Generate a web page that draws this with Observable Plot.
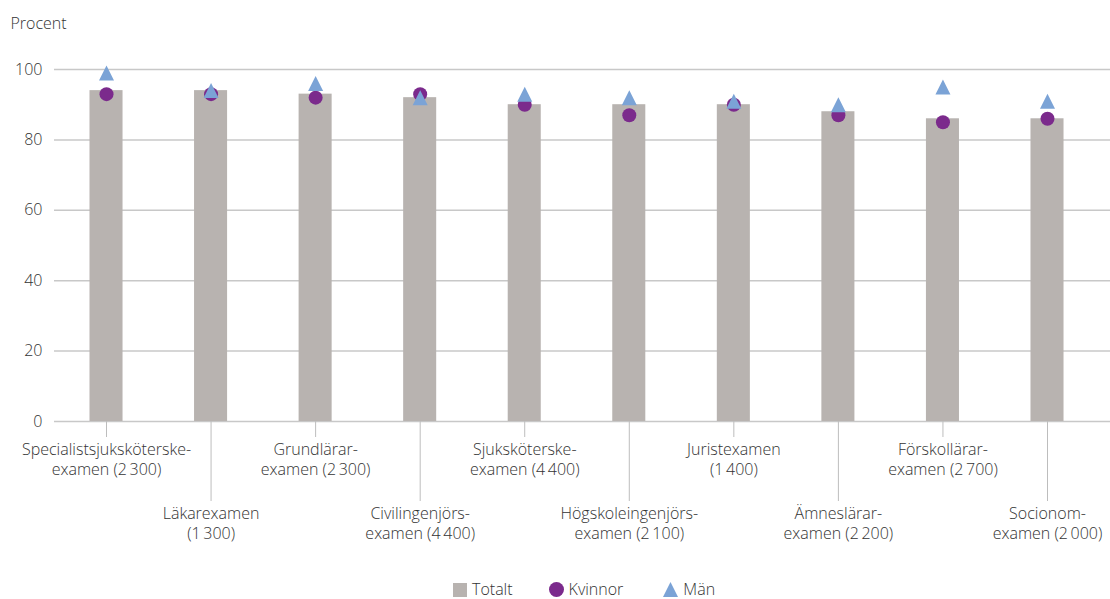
<!DOCTYPE html>
<html>
<head>
<meta charset="utf-8">
<script src="https://cdn.jsdelivr.net/npm/d3@7"></script>
<script src="https://cdn.jsdelivr.net/npm/@observablehq/plot@0.6"></script>
<style>
  body { margin: 0; background: #fff; font-family: "Open Sans", Lato, sans-serif; }
  #chart svg { display: block; }
  #legend { margin-left: 453px; margin-top: 11px; display: flex; align-items: center; font-size: 16px; font-weight: 300; color: #333; height: 17px; line-height: 17px; }
  #legend .item { display: flex; align-items: center; }
  #legend .item:nth-child(1) { margin-right: 36px; }
  #legend .item:nth-child(2) { margin-right: 40px; }
  #legend svg { margin-right: 5px; display: block; }
</style>
</head>
<body>
<div id="chart"></div>
<div id="legend"></div>
<script>
const categories = [
  "Specialistsjuksköterske-\nexamen (2\u2009300)",
  "Läkarexamen\n(1\u2009300)",
  "Grundlärar-\nexamen (2\u2009300)",
  "Civilingenjörs-\nexamen (4\u2009400)",
  "Sjuksköterske-\nexamen (4\u2009400)",
  "Högskoleingenjörs-\nexamen (2\u2009100)",
  "Juristexamen\n(1\u2009400)",
  "Ämneslärar-\nexamen (2\u2009200)",
  "Förskollärar-\nexamen (2\u2009700)",
  "Socionom-\nexamen (2\u2009000)"
];
const totalt  = [94, 94, 93, 92, 90, 90, 90, 88, 86, 86];
const kvinnor = [93, 93, 92, 93, 90, 87, 90, 87, 85, 86];
const man     = [99, 94, 96, 92, 93, 92, 91, 90, 95, 91];
const yTicks = [0, 20, 40, 60, 80, 100];

const data = categories.map((c, i) => ({cat: c, totalt: totalt[i], kvinnor: kvinnor[i], man: man[i]}));
const upper = categories.filter((c, i) => i % 2 === 0);
const lower = categories.filter((c, i) => i % 2 === 1);

// isosceles triangle (width = height), centred on its bounding box
const triangle = {
  draw(context, size) {
    const r = Math.sqrt(size / Math.PI);
    context.moveTo(0, -r);
    context.lineTo(r, r);
    context.lineTo(-r, r);
    context.closePath();
  }
};

const chart = Plot.plot({
  width: 1110,
  height: 570,
  marginLeft: 54,
  marginRight: 0,
  marginTop: 69,
  marginBottom: 149,
  style: {fontFamily: "'Open Sans', Lato, sans-serif", fontSize: "16px", fontWeight: 300, color: "#333", background: "#fff"},
  x: {domain: categories, paddingInner: 0.684, paddingOuter: 0.392, align: 0.433, round: false, axis: null},
  y: {domain: [0, 100], axis: null},
  marks: [
    Plot.gridY(yTicks, {stroke: "#c8c8c8", strokeOpacity: 1, strokeWidth: 1.5}),
    Plot.axisY(yTicks, {tickSize: 0, tickPadding: 12, label: null, fill: "#333"}),
    Plot.text(["Procent"], {frameAnchor: "top-left", dx: -44, dy: -52, textAnchor: "start", fill: "#333"}),
    Plot.barY(data, {x: "cat", y: "totalt", fill: "#b8b3b0"}),
    Plot.axisX(upper, {tickSize: 16, tickPadding: 3, label: null, stroke: "#bdbdbd", fill: "#333", lineHeight: 1.25}),
    Plot.axisX(lower, {tickSize: 80, tickPadding: 3, label: null, stroke: "#bdbdbd", fill: "#333", lineHeight: 1.25}),
    Plot.dot(data, {x: "cat", y: "kvinnor", r: 7, fill: "#7b2a8c", stroke: null}),
    Plot.dot(data, {x: "cat", y: "man", r: 7.5, symbol: triangle, fill: "#7ba3d6", stroke: null})
  ]
});
document.getElementById("chart").appendChild(chart);

const legendItems = [
  {label: "Totalt", svg: '<svg width="14" height="14"><rect width="14" height="14" fill="#b8b3b0"/></svg>'},
  {label: "Kvinnor", svg: '<svg width="15" height="15"><circle cx="7.5" cy="7.5" r="7.5" fill="#7b2a8c"/></svg>'},
  {label: "Män", svg: '<svg width="15" height="15"><polygon points="7.5,0 15,15 0,15" fill="#7ba3d6"/></svg>'}
];
document.getElementById("legend").innerHTML = legendItems.map(d => `<span class="item">${d.svg}${d.label}</span>`).join("");
</script>
</body>
</html>
